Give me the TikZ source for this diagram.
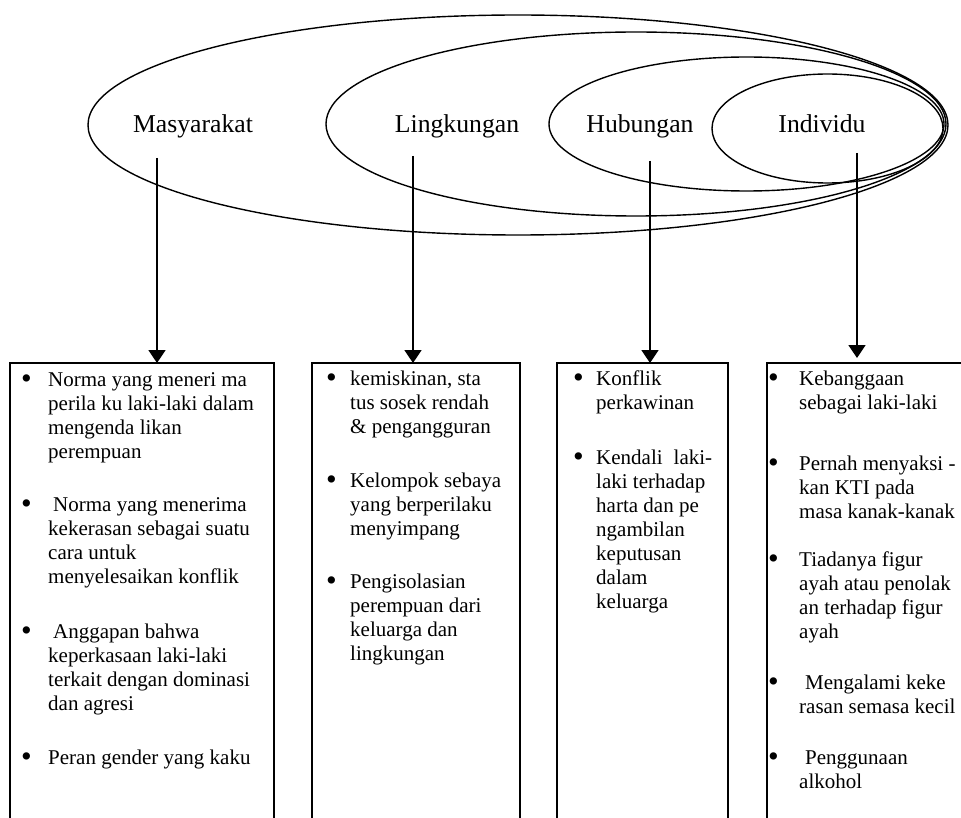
\documentclass[tikz,border=0pt]{standalone}
\usepackage{fontspec}
\setmainfont{Liberation Serif}
\usetikzlibrary{arrows.meta,shapes.geometric}

% bullet hung to the left of the first line of an item
\newcommand\blt[1]{\llap{\raisebox{-2.6pt}{\scalebox{1.45}{\textbullet}}\hspace{#1pt}}}

\begin{document}
\begin{tikzpicture}[x=1pt,y=-1pt,
  ring/.style={draw,ellipse,line width=1.4pt,inner sep=0pt,outer sep=0pt},
  lvl/.style={font=\fontsize{25.7}{30}\selectfont,anchor=base,inner sep=0pt},
  col/.style={draw,line width=1.8pt,inner sep=0pt,outer sep=0pt,anchor=north west,minimum height=520pt},
  % items are placed by the baseline of their last line
  item/.style={anchor=base west,align=left,inner sep=0pt,font=\fontsize{21}{24}\selectfont},
  arr/.style={line width=1.8pt,-{Triangle[length=13pt,width=17pt]}}]

\useasboundingbox (0,0) rectangle (961,818);
\clip (0,0) rectangle (961,818);

% nested levels
\node[ring,minimum width=860pt,minimum height=220pt] (e1) at (518,125) {};
\node[ring,minimum width=620pt,minimum height=184pt] (e2) at (636,124) {};
\node[ring,minimum width=395pt,minimum height=134pt] (e3) at (746.5,124) {};
\node[ring,minimum width=231pt,minimum height=109pt] (e4) at (827.5,128.5) {};

\node[lvl] (l1) at (193,133) {Masyarakat};
\node[lvl] (l2) at (457,133) {Lingkungan};
\node[lvl] (l3) at (640,133) {Hubungan};
\node[lvl] (l4) at (822,133) {Individu};

% factor columns (open at the bottom)
\node[col,minimum width=264pt] (b1) at (10,363) {};
\node[col,minimum width=208pt] (b2) at (312,363) {};
\node[col,minimum width=171pt] (b3) at (557,363) {};
\node[col,minimum width=300pt] (b4) at (767,363) {};

% connectors from each level to its column
\coordinate (s1) at (157,158);
\coordinate (s2) at (413,156);
\coordinate (s3) at (650,161);
\coordinate (s4) at (857,153);
\draw[arr] (s1) -- (s1 |- b1.north);
\draw[arr] (s2) -- (s2 |- b2.north);
\draw[arr] (s3) -- (s3 |- b3.north);
\draw[arr,shorten >=5pt] (s4) -- (s4 |- b4.north);

% Masyarakat
\node[item] (m1) at (48,458) {\blt{16.3}Norma yang meneri ma\\perila ku laki-laki dalam\\mengenda likan\\perempuan};
\node[item] (m2) at (48,583) {\blt{16.3}\hspace*{5pt}Norma yang menerima\\kekerasan sebagai suatu\\cara untuk\\menyelesaikan konflik};
\node[item] (m3) at (48,710) {\blt{16.3}\hspace*{5pt}Anggapan bahwa\\keperkasaan laki-laki\\terkait dengan dominasi\\dan agresi};
\node[item] (m4) at (48,764) {\blt{16.3}Peran gender yang kaku};

% Lingkungan
\node[item] (g1) at (350,433) {\blt{13.3}kemiskinan, sta\\tus sosek rendah\\\& pengangguran};
\node[item] (g2) at (350,535) {\blt{13.3}Kelompok sebaya\\yang berperilaku\\menyimpang};
\node[item] (g3) at (350,660) {\blt{13.3}Pengisolasian\\perempuan dari\\keluarga dan\\lingkungan};

% Hubungan
\node[item] (h1) at (596,409) {\blt{12.3}Konflik\\perkawinan};
\node[item] (h2) at (596,608) {\blt{12.3}Kendali\hspace{11pt}laki-\\laki terhadap\\harta dan pe\\ngambilan\\keputusan\\dalam\\keluarga};

% Individu
\node[item] (i1) at (799,409) {\blt{20.3}Kebanggaan\\sebagai laki-laki};
\node[item] (i2) at (799,518) {\blt{20.3}Pernah menyaksi -\\kan KTI pada\\masa kanak-kanak};
\node[item] (i3) at (799,638) {\blt{20.3}Tiadanya figur\\ayah atau penolak\\an terhadap figur\\ayah};
\node[item] (i4) at (799,713) {\blt{20.3}\hspace*{6pt}Mengalami keke\\rasan semasa kecil};
\node[item] (i5) at (799,788) {\blt{20.3}\hspace*{6pt}Penggunaan\\alkohol};
\end{tikzpicture}
\end{document}
